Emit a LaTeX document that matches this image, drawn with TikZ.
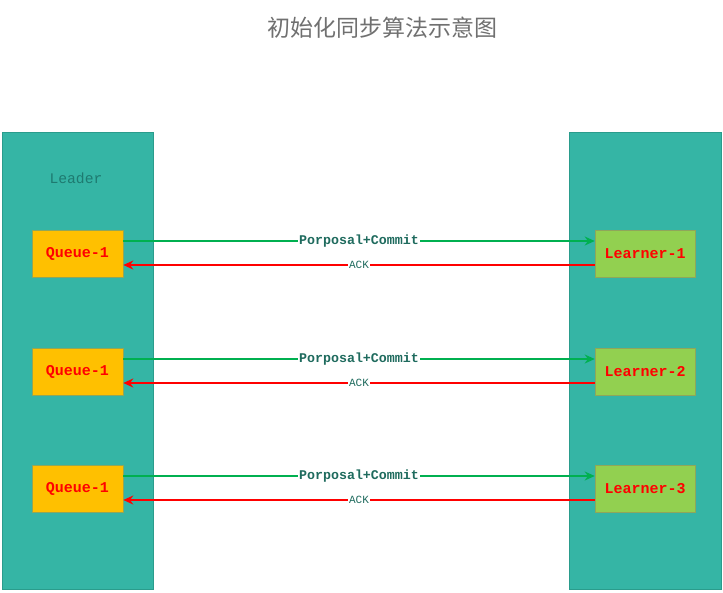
\documentclass[tikz,border=0pt]{standalone}
\usepackage{fontspec}
\setmonofont{Liberation Mono}
\newfontfamily\cjk{Noto Sans CJK SC}
\usetikzlibrary{arrows.meta}
\definecolor{panelfill}{HTML}{35B5A5}
\definecolor{panelline}{HTML}{2A9C8C}
\definecolor{queuefill}{HTML}{FFC000}
\definecolor{learnfill}{HTML}{92D050}
\definecolor{boxline}{HTML}{8FA65A}
\definecolor{txtred}{HTML}{FF0000}
\definecolor{arrgreen}{HTML}{00B050}
\definecolor{arrred}{HTML}{FF0000}
\definecolor{lbltxt}{HTML}{1F6B5E}
\definecolor{leadtxt}{HTML}{1E7A70}
\definecolor{titlegray}{HTML}{707070}
\tikzset{
  panel/.style={draw=panelline, fill=panelfill, line width=0.8pt, inner sep=0pt},
  queuebox/.style={draw=boxline, fill=queuefill, line width=0.6pt, minimum width=91pt, minimum height=47pt, inner sep=0pt, text=txtred, font=\ttfamily\bfseries\fontsize{15}{17}\selectfont},
  learnbox/.style={draw=boxline, fill=learnfill, line width=0.6pt, minimum width=100pt, minimum height=47pt, inner sep=0pt, text=txtred, font=\ttfamily\bfseries\fontsize{15}{17}\selectfont},
  sendarrow/.style={draw=arrgreen, line width=2pt, -{Stealth[length=10pt,width=9pt]}},
  ackarrow/.style={draw=arrred, line width=2pt, -{Stealth[length=10pt,width=9pt]}},
  sendlbl/.style={fill=white, inner sep=1pt, text=lbltxt, font=\ttfamily\bfseries\fontsize{13.3}{15}\selectfont},
  acklbl/.style={fill=white, inner sep=1pt, text=lbltxt, font=\ttfamily\fontsize{11}{13}\selectfont},
}
\begin{document}
\begin{tikzpicture}[x=1pt,y=-1pt]
\useasboundingbox (0,0) rectangle (723,592);
\node[font=\cjk\fontsize{23}{26}\selectfont, text=titlegray] (title) at (382,28) {初始化同步算法示意图};
\node[panel, minimum width=151pt, minimum height=457pt] (leader) at (77.5,360.5) {};
\node[panel, minimum width=152pt, minimum height=457pt] (learners) at (645,360.5) {};
\node[text=leadtxt, font=\ttfamily\fontsize{14.7}{16}\selectfont] (leadlbl) at (76,178) {Leader};
\foreach \i/\y in {1/253.5, 2/371.5, 3/488.5} {
  \node[queuebox] (q\i) at (77.5,\y) {Queue-1};
  \node[learnbox] (l\i) at (645,\y) {Learner-\i};
  \draw[sendarrow] ([yshift=12.5pt]q\i.east) -- ([yshift=12.5pt]l\i.west)
    node[sendlbl, midway] {Porposal+Commit};
  \draw[ackarrow] ([yshift=-11.5pt]l\i.west) -- ([yshift=-11.5pt]q\i.east)
    node[acklbl, midway] {ACK};
}
\end{tikzpicture}
\end{document}
